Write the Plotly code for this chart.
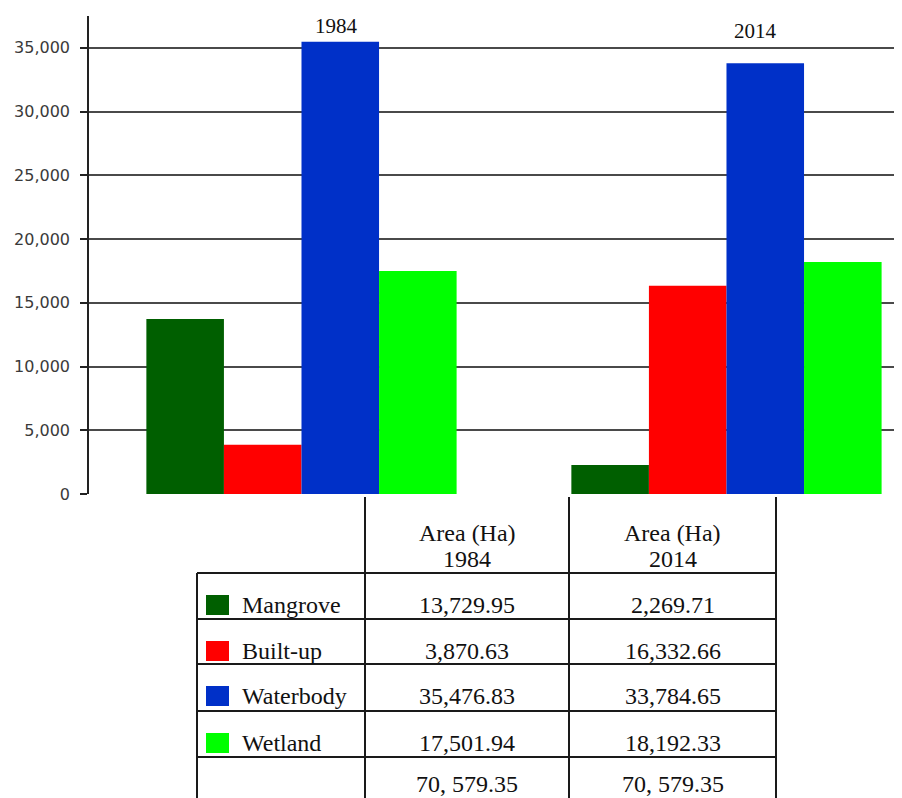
import plotly.graph_objects as go

# ---------------- data ----------------
years = ["1984", "2014"]
classes = ["Mangrove", "Built-up", "Waterbody", "Wetland"]
mangrove = [13729.95, 2269.71]
built_up = [3870.63, 16332.66]
waterbody = [35476.83, 33784.65]
wetland = [17501.94, 18192.33]
totals = ["70, 579.35", "70, 579.35"]
header_top = ["Area (Ha)", "Area (Ha)"]
header_bottom = ["1984", "2014"]
colors = ["#005f00", "#ff0000", "#0030c8", "#00ff00"]

series = [mangrove, built_up, waterbody, wetland]

# ---------------- layout geometry (page pixels) ----------------
OFF = 8  # page body margin
PAGE_W, PAGE_H = 902, 798
W, H = PAGE_W - OFF, PAGE_H - OFF
L, R, T, B = 89, 902, 16, 494  # plot area in page pixels


def px(x):
    return (x - L) / (R - L)


def py(y):
    return (B - y) / (B - T)


fig = go.Figure()
for name, vals, col in zip(classes, series, colors):
    fig.add_trace(go.Bar(x=years, y=vals, name=name, marker=dict(color=col, line=dict(width=0)),
                         showlegend=False))

serif = "Liberation Serif, Times New Roman, serif"

# year labels above groups
fig.add_annotation(x=0.082, y=36750, xref="x", yref="y", text="1984", showarrow=False,
                   font=dict(family=serif, size=21, color="#111"))
fig.add_annotation(x=1.068, y=36360, xref="x", yref="y", text="2014", showarrow=False,
                   font=dict(family=serif, size=21, color="#111"))

shapes = []
line = dict(color="#1a1a1a", width=2)
col_x = [197, 365, 569, 776]
row_y = [573, 619, 664, 711, 757]
bottom = 820
shapes.append(dict(type="line", xref="paper", yref="paper", x0=px(col_x[0]), x1=px(col_x[0]),
                   y0=py(row_y[0]), y1=py(bottom), line=line))
for cx in col_x[1:]:
    shapes.append(dict(type="line", xref="paper", yref="paper", x0=px(cx), x1=px(cx),
                       y0=py(497), y1=py(bottom), line=line))
for ry in row_y:
    shapes.append(dict(type="line", xref="paper", yref="paper", x0=px(col_x[0]), x1=px(col_x[-1]),
                       y0=py(ry), y1=py(ry), line=line))

centers = [(col_x[1] + col_x[2]) / 2, (col_x[2] + col_x[3]) / 2]
tfont = dict(family=serif, size=24, color="#111")

for j in range(2):
    fig.add_annotation(x=px(centers[j]), y=py(533), xref="paper", yref="paper", text=header_top[j],
                       showarrow=False, font=tfont, xanchor="center", yanchor="middle")
    fig.add_annotation(x=px(centers[j]), y=py(559), xref="paper", yref="paper", text=header_bottom[j],
                       showarrow=False, font=tfont, xanchor="center", yanchor="middle")

row_centers = [605, 651, 696, 743]
for i, name in enumerate(classes):
    yc = row_centers[i]
    shapes.append(dict(type="rect", xref="paper", yref="paper", x0=px(206), x1=px(229),
                       y0=py(yc + 10), y1=py(yc - 10), fillcolor=colors[i], line=dict(width=0)))
    fig.add_annotation(x=px(240), y=py(yc), xref="paper", yref="paper", text=name, showarrow=False,
                       font=tfont, xanchor="left", yanchor="middle")
    for j in range(2):
        fig.add_annotation(x=px(centers[j]), y=py(yc), xref="paper", yref="paper",
                           text=f"{series[i][j]:,.2f}", showarrow=False, font=tfont,
                           xanchor="center", yanchor="middle")
for j in range(2):
    fig.add_annotation(x=px(centers[j]), y=py(784), xref="paper", yref="paper", text=totals[j],
                       showarrow=False, font=tfont, xanchor="center", yanchor="middle")

fig.update_layout(
    width=W, height=H,
    margin=dict(l=L - OFF, r=PAGE_W - R, t=T - OFF, b=PAGE_H - B, autoexpand=False),
    paper_bgcolor="white", plot_bgcolor="white",
    barmode="group", bargap=0.27, bargroupgap=0,
    shapes=shapes,
    xaxis=dict(range=[-0.5, 1.413], showticklabels=False, showgrid=False, zeroline=False,
               showline=False, ticks=""),
    yaxis=dict(range=[0, 37500], dtick=5000, tickformat=",", ticks="outside", ticklen=7,
               tickcolor="#222", tickwidth=1.5, showline=True, linecolor="#222", linewidth=1.5,
               showgrid=True, gridcolor="#4a4a4a", gridwidth=2, zeroline=False,
               ticklabelstandoff=7,
               tickfont=dict(family="DejaVu Sans, Verdana, sans-serif", size=16, color="#3a3a3a")),
)

fig.write_html("out.html")
